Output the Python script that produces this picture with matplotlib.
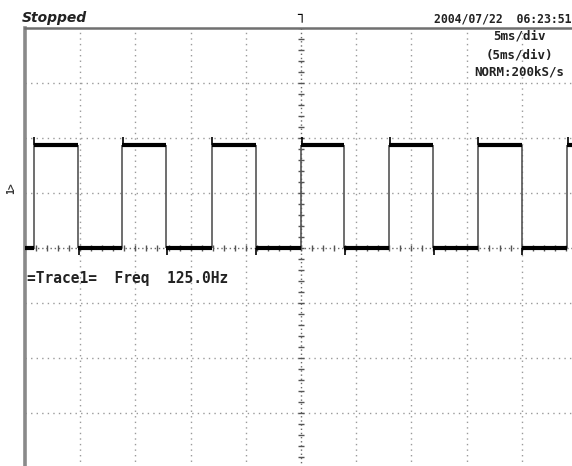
import matplotlib.pyplot as plt
import numpy as np

# --- datos (tiempo en ms respecto al disparo, amplitud en div) ---
flancos_subida = [-24.2, -16.2, -8.1, 0.0, 8.0, 16.0, 24.1]
flancos_bajada = [-20.2, -12.2, -4.1, 3.9, 12.0, 20.0]
nivel_alto = 1.88
nivel_bajo = 0.0
sobreimpulso = 0.13

t_min, t_max = -25.0, 25.0
div_x = 5.0  # 5 ms/div
n_div_y = 4

ancho_px, alto_px = 572, 466


def px(x, y):
    """Convierte pixeles de la imagen a coordenadas de figura."""
    return x / ancho_px, 1 - y / alto_px


fig = plt.figure(figsize=(ancho_px / 100, alto_px / 100), dpi=100)
fig.patch.set_facecolor('white')

izq, arr = px(25, 28)
der, aba = px(577, 468)
ax = fig.add_axes([izq, aba, der - izq, arr - aba])
ax.set_xlim(t_min, t_max)
ax.set_ylim(-n_div_y, n_div_y)
ax.set_xticks([])
ax.set_yticks([])
for lado in ['right', 'bottom']:
    ax.spines[lado].set_visible(False)
ax.spines['left'].set_color('#8a8a8a')
ax.spines['left'].set_linewidth(2.6)
ax.spines['top'].set_color('#707070')
ax.spines['top'].set_linewidth(1.8)

# --- reticula punteada ---
estilo_grid = dict(color='#9a9a9a', linewidth=1.0, linestyle=(0, (1, 3)), zorder=1)
for xv in np.arange(t_min + div_x, t_max, div_x):
    if abs(xv) > 1e-9:
        ax.axvline(xv, **estilo_grid)
for yv in range(-n_div_y + 1, n_div_y):
    if yv != 0:
        ax.axhline(yv, **estilo_grid)

# ejes centrales con marcas cada 1/5 div
centro = dict(color='#6a6a6a', linewidth=1.0, linestyle=(0, (1, 2)), zorder=1)
ax.axvline(0, **centro)
ax.axhline(0, **centro)
marcas_x = np.arange(t_min, t_max + 0.01, div_x / 5)
marcas_y = np.arange(-n_div_y, n_div_y + 0.01, 0.2)
ax.plot(marcas_x, np.zeros_like(marcas_x), linestyle='none', marker='|',
        markersize=5, color='#555555', markeredgewidth=1.0, zorder=2)
ax.plot(np.zeros_like(marcas_y), marcas_y, linestyle='none', marker='_',
        markersize=5, color='#555555', markeredgewidth=1.0, zorder=2)

# --- forma de onda cuadrada ---
flancos = sorted([(t, 'sube') for t in flancos_subida] + [(t, 'baja') for t in flancos_bajada])
inicio = t_min
nivel = nivel_bajo if flancos[0][1] == 'sube' else nivel_alto
for t, tipo in flancos + [(t_max, 'fin')]:
    ax.plot([inicio, t], [nivel, nivel], color='black', linewidth=3.0,
            solid_capstyle='butt', zorder=4)
    if tipo == 'fin':
        break
    ax.vlines(t, nivel_bajo, nivel_alto, color='#555555', linewidth=1.2, zorder=3)
    if tipo == 'sube':
        ax.vlines(t + 0.05, nivel_alto, nivel_alto + sobreimpulso, color='black',
                  linewidth=1.2, zorder=4)
        nivel = nivel_alto
    else:
        ax.vlines(t + 0.05, nivel_bajo - sobreimpulso, nivel_bajo, color='black',
                  linewidth=1.2, zorder=4)
        nivel = nivel_bajo
    inicio = t

# --- textos de la pantalla ---
mono = 'DejaVu Sans Mono'
fig.text(*px(22, 22), 'Stopped', fontsize=10, fontweight='bold', style='italic',
         color='#222222', va='baseline', ha='left')
fig.text(*px(571, 22), '2004/07/22  06:23:51', family=mono, fontsize=8.3,
         fontweight='bold', color='#222222', va='baseline', ha='right')
fig.text(*px(301, 15), '┐', family=mono, fontsize=10, fontweight='bold',
         color='black', va='center', ha='center')
for y, txt in [(36, '5ms/div'), (55, '(5ms/div)'), (72, 'NORM:200kS/s')]:
    fig.text(*px(519, y), txt, family=mono, fontsize=9.0, fontweight='bold',
             color='#222222', va='center', ha='center')
fig.text(*px(11, 188), '1>', family=mono, fontsize=7, fontweight='bold',
         color='#333333', rotation=90, va='center', ha='center')
fig.text(*px(27, 278), '=Trace1=  Freq  125.0Hz', family=mono, fontsize=10.5,
         fontweight='bold', color='#222222', va='center', ha='left')

fig.savefig('out.png', dpi=100, facecolor='white')
